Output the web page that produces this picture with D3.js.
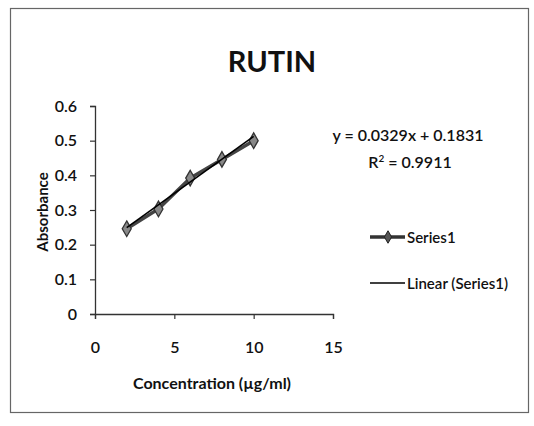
<!DOCTYPE html>
<html><head><meta charset="utf-8">
<script src="https://cdn.jsdelivr.net/npm/d3@7"></script>
<style>body{margin:0;background:#fff}svg{display:block}text{font-family:Lato,"Noto Sans",sans-serif;fill:#111}</style>
</head><body><svg id="c" width="534" height="426"></svg>
<script>
const concentrations = [2, 4, 6, 8, 10];
const absorbance = [0.246, 0.303, 0.392, 0.446, 0.5];
const xTicks = [0, 5, 10, 15];
const yTicks = [0, 0.1, 0.2, 0.3, 0.4, 0.5, 0.6];
const slope = 0.0329, intercept = 0.1831, r2 = 0.9911;

const svg = d3.select("#c");
svg.append("rect").attr("x",10.5).attr("y",8.5).attr("width",518).attr("height",404)
  .attr("fill","#fff").attr("stroke","#666").attr("stroke-width",1.2);

const x = d3.scaleLinear().domain([0,15]).range([95,333]);
const y = d3.scaleLinear().domain([0,0.6]).range([314,106]);

svg.append("text").attr("x",272).attr("y",72).attr("text-anchor","middle")
  .attr("font-size",29).attr("font-weight","bold").text("RUTIN");

const gx = svg.append("g").attr("transform","translate(0,314)")
  .call(d3.axisBottom(x).tickValues(xTicks).tickSize(5).tickPadding(23).tickFormat(d3.format("d")));
const gy = svg.append("g").attr("transform","translate(95,0)")
  .call(d3.axisLeft(y).tickValues(yTicks).tickSize(5).tickPadding(13).tickFormat(d=>d===0?"0":d3.format(".1f")(d)));
[gx,gy].forEach(g=>{
  g.selectAll("path").attr("stroke","#333").attr("stroke-width",1.3);
  g.selectAll("line").attr("stroke","#333").attr("stroke-width",1.2);
  g.selectAll("text").attr("font-size",16).attr("font-weight",600).attr("fill","#111").style("font-family","Lato,'Noto Sans',sans-serif");
});

svg.append("text").attr("x",212).attr("y",389).attr("text-anchor","middle")
  .attr("font-size",16).attr("font-weight","bold").text("Concentration (µg/ml)");
svg.append("text").attr("transform","translate(48,212) rotate(-90)").attr("text-anchor","middle")
  .attr("font-size",15).attr("font-weight","bold").text("Absorbance");

const data = concentrations.map((c,i)=>({x:c,y:absorbance[i]}));
const line = d3.line().x(d=>x(d.x)).y(d=>y(d.y));
svg.append("path").datum(data).attr("d",line).attr("fill","none").attr("stroke","#444").attr("stroke-width",3.5);
const diamond = d3.symbol().type(d3.symbolDiamond).size(70);
svg.selectAll(".pt").data(data).join("path").attr("class","pt")
  .attr("transform",d=>`translate(${x(d.x)},${y(d.y)})`).attr("d",diamond)
  .attr("fill","#888").attr("stroke","#333").attr("stroke-width",1.3);
const trend = [2,10].map(v=>({x:v,y:slope*v+intercept}));
svg.append("path").datum(trend).attr("d",line).attr("fill","none").attr("stroke","#000").attr("stroke-width",1.6);

svg.append("text").attr("x",408).attr("y",141).attr("text-anchor","middle").attr("font-size",16).attr("font-weight",600)
  .text(`y = ${slope}x + ${intercept}`);
const rt = svg.append("text").attr("x",410).attr("y",168).attr("text-anchor","middle").attr("font-size",16).attr("font-weight",600);
rt.append("tspan").text("R");
rt.append("tspan").attr("font-size",10).attr("dy",-6).text("2");
rt.append("tspan").attr("dy",6).text(` = ${r2}`);

// legend
svg.append("line").attr("x1",370).attr("x2",405).attr("y1",237).attr("y2",237).attr("stroke","#333").attr("stroke-width",3.5);
svg.append("path").attr("transform","translate(388,237)").attr("d",d3.symbol().type(d3.symbolDiamond).size(45))
  .attr("fill","#555").attr("stroke","#222");
svg.append("text").attr("x",407).attr("y",243).attr("font-size",15).attr("font-weight",600).text("Series1");
svg.append("line").attr("x1",370).attr("x2",405).attr("y1",283).attr("y2",283).attr("stroke","#000").attr("stroke-width",1.6);
svg.append("text").attr("x",407).attr("y",289).attr("font-size",15).attr("font-weight",600).text("Linear (Series1)");
</script></body></html>
